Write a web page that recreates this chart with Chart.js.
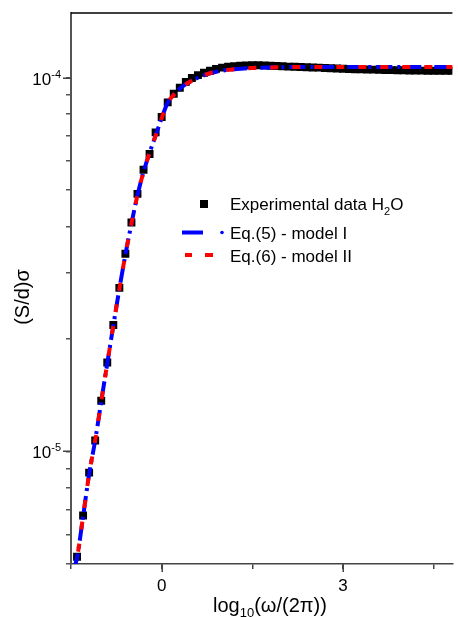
<!DOCTYPE html>
<html>
<head>
<meta charset="utf-8">
<script src="https://cdn.jsdelivr.net/npm/chart.js@4.4.1/dist/chart.umd.min.js"></script>
<style>
  html, body { margin: 0; padding: 0; background: #fff; }
  canvas { display: block; }
</style>
</head>
<body>
<canvas id="chart" width="458" height="617"></canvas>
<script>
// Experimental data, log10(w/2pi) vs (S/d)sigma
const expX = [-1.4, -1.3, -1.2, -1.1, -1.0, -0.9, -0.8, -0.7, -0.6, -0.5, -0.4, -0.3, -0.2, -0.1,
  0.0, 0.1, 0.2, 0.3, 0.4, 0.5, 0.6, 0.7, 0.8, 0.9, 1.0, 1.1, 1.2, 1.3, 1.4, 1.5, 1.6, 1.7, 1.8, 1.9,
  2.0, 2.1, 2.2, 2.3, 2.4, 2.5, 2.6, 2.7, 2.8, 2.9, 3.0, 3.1, 3.2, 3.3, 3.4, 3.5, 3.6, 3.7, 3.8, 3.9,
  4.0, 4.1, 4.2, 4.3, 4.4, 4.5, 4.6, 4.7, 4.8];
const expY = [5.23e-6, 6.74e-6, 8.78e-6, 1.07e-5, 1.367e-5, 1.73e-5, 2.18e-5, 2.74e-5, 3.38e-5, 4.10e-5, 4.89e-5, 5.67e-5, 6.25e-5, 7.14e-5,
  7.85e-5, 8.59e-5, 9.06e-5, 9.40e-5, 9.75e-5, 9.98e-5, 1.016e-4, 1.031e-4, 1.044e-4, 1.056e-4, 1.064e-4, 1.070e-4, 1.074e-4, 1.077e-4, 1.079e-4, 1.080e-4, 1.080e-4, 1.079e-4, 1.077e-4, 1.075e-4,
  1.073e-4, 1.071e-4, 1.070e-4, 1.068e-4, 1.067e-4, 1.065e-4, 1.064e-4, 1.062e-4, 1.060e-4, 1.058e-4, 1.057e-4, 1.055e-4, 1.054e-4, 1.053e-4, 1.052e-4, 1.051e-4, 1.050e-4, 1.049e-4, 1.048e-4, 1.047e-4,
  1.047e-4, 1.046e-4, 1.045e-4, 1.045e-4, 1.044e-4, 1.044e-4, 1.044e-4, 1.043e-4, 1.043e-4];

// Model curves
const modelX = [-1.45, -1.4, -1.3, -1.2, -1.1, -1.0, -0.9, -0.8, -0.7, -0.6, -0.5, -0.4, -0.3, -0.2, -0.1,
  0.0, 0.1, 0.2, 0.3, 0.4, 0.5, 0.6, 0.8, 1.0, 1.2, 1.5, 2.0, 2.5, 3.0, 3.5, 4.0, 4.5, 4.85];
const model1Y = [4.85e-6, 5.2e-6, 6.7e-6, 8.7e-6, 1.07e-5, 1.36e-5, 1.72e-5, 2.17e-5, 2.72e-5, 3.36e-5, 4.07e-5, 4.85e-5, 5.6e-5, 6.3e-5, 7.0e-5,
  7.8e-5, 8.57e-5, 9.0e-5, 9.34e-5, 9.61e-5, 9.82e-5, 1.0e-4, 1.028e-4, 1.044e-4, 1.054e-4, 1.062e-4, 1.067e-4, 1.068e-4, 1.068e-4, 1.068e-4, 1.068e-4, 1.068e-4, 1.068e-4];
const model2Y = [4.85e-6, 5.2e-6, 6.7e-6, 8.7e-6, 1.07e-5, 1.36e-5, 1.72e-5, 2.17e-5, 2.72e-5, 3.36e-5, 4.07e-5, 4.85e-5, 5.6e-5, 6.3e-5, 7.0e-5,
  7.8e-5, 8.57e-5, 9.0e-5, 9.34e-5, 9.61e-5, 9.82e-5, 1.0e-4, 1.028e-4, 1.044e-4, 1.054e-4, 1.062e-4, 1.067e-4, 1.068e-4, 1.068e-4, 1.068e-4, 1.068e-4, 1.068e-4, 1.068e-4];

// axis ticks
const xTickVals = [-1.5, 0, 1.5, 3, 4.5];
const xLabelTicks = [0, 3];
const yTickVals = [5e-6, 6e-6, 7e-6, 8e-6, 9e-6, 1e-5, 2e-5, 3e-5, 4e-5, 5e-5, 6e-5, 7e-5, 8e-5, 9e-5, 1e-4];
const yLabelTicks = [1e-5, 1e-4];

const FONT = "'Liberation Sans', Arial, sans-serif";
const toPts = (xs, ys) => xs.map((x, i) => ({ x: x, y: ys[i] }));

// Draws superscript tick labels, titles, legend and top frame line
const decorPlugin = {
    id: 'decor',
    afterDraw(chart) {
        const ctx = chart.ctx;
        const area = chart.chartArea;
        const xs = chart.scales.x;
        const ys = chart.scales.y;
        ctx.save();
        ctx.fillStyle = '#000';

        // top frame
        ctx.strokeStyle = '#000';
        ctx.lineWidth = 1.5;
        ctx.beginPath();
        ctx.moveTo(area.left, area.top);
        ctx.lineTo(area.right, area.top);
        ctx.stroke();

        // longer major ticks
        ctx.strokeStyle = '#444';
        ctx.beginPath();
        yLabelTicks.forEach(v => {
            const py = Math.round(ys.getPixelForValue(v)) + 0.25;
            ctx.moveTo(area.left - 8, py);
            ctx.lineTo(area.left, py);
        });
        xLabelTicks.forEach(v => {
            const px = Math.round(xs.getPixelForValue(v)) + 0.25;
            ctx.moveTo(px, area.bottom);
            ctx.lineTo(px, area.bottom + 8);
        });
        ctx.stroke();

        // y tick labels 10^n
        yLabelTicks.forEach(v => {
            const py = ys.getPixelForValue(v);
            const exp = '-' + Math.round(-Math.log10(v));
            ctx.font = '11px ' + FONT;
            const ew = ctx.measureText(exp).width;
            ctx.textBaseline = 'alphabetic';
            ctx.textAlign = 'left';
            const right = 61;
            ctx.fillText(exp, right - ew, py);
            ctx.font = '17px ' + FONT;
            ctx.textAlign = 'right';
            ctx.fillText('10', right - ew, py + 7);
        });

        // x tick labels
        ctx.font = '17px ' + FONT;
        ctx.textAlign = 'center';
        ctx.textBaseline = 'alphabetic';
        xLabelTicks.forEach(v => {
            ctx.fillText(String(v), xs.getPixelForValue(v), 591);
        });

        // x title: log10(w/(2pi))
        ctx.textAlign = 'left';
        let tx = 213;
        const ty = 612;
        ctx.font = '20px ' + FONT;
        ctx.fillText('log', tx, ty);
        tx += ctx.measureText('log').width;
        ctx.font = '13px ' + FONT;
        ctx.fillText('10', tx, ty + 5);
        tx += ctx.measureText('10').width;
        ctx.font = '20px ' + FONT;
        ctx.fillText('(\u03c9/(2\u03c0))', tx, ty);

        // y title
        ctx.save();
        ctx.translate(29, 297);
        ctx.rotate(-Math.PI / 2);
        ctx.textAlign = 'center';
        ctx.font = '20px ' + FONT;
        ctx.fillText('(S/d)\u03c3', 0, 0);
        ctx.restore();

        // legend
        ctx.font = '17px ' + FONT;
        ctx.textAlign = 'left';
        ctx.fillRect(200, 200, 8, 8);
        let lx = 230;
        ctx.fillText('Experimental data H', lx, 210);
        lx += ctx.measureText('Experimental data H').width;
        ctx.font = '11px ' + FONT;
        ctx.fillText('2', lx, 215);
        lx += ctx.measureText('2').width;
        ctx.font = '17px ' + FONT;
        ctx.fillText('O', lx, 210);

        ctx.strokeStyle = '#0000ff';
        ctx.lineWidth = 4;
        ctx.beginPath();
        ctx.moveTo(182, 232.5);
        ctx.lineTo(203, 232.5);
        ctx.stroke();
        ctx.fillStyle = '#0000ff';
        ctx.beginPath();
        ctx.arc(222, 232.5, 1.8, 0, Math.PI * 2);
        ctx.fill();

        ctx.strokeStyle = '#ff0000';
        ctx.beginPath();
        ctx.moveTo(185, 255);
        ctx.lineTo(192, 255);
        ctx.moveTo(205, 255);
        ctx.lineTo(213, 255);
        ctx.stroke();

        ctx.fillStyle = '#000';
        ctx.fillText('Eq.(5) - model I', 230, 238.5);
        ctx.fillText('Eq.(6) - model II', 230, 261.5);
        ctx.restore();
    }
};

new Chart(document.getElementById('chart'), {
    type: 'scatter',
    data: {
        datasets: [{
            label: 'Experimental data H2O',
            data: toPts(expX, expY),
            pointStyle: 'rect',
            pointRadius: 5.6,
            pointBackgroundColor: '#000',
            pointBorderWidth: 0,
            order: 3
        }, {
            type: 'line',
            label: 'Eq.(5) - model I',
            data: toPts(modelX, model1Y),
            borderColor: '#0000ff',
            borderWidth: 4,
            borderDash: [16, 5, 3, 5],
            pointRadius: 0,
            cubicInterpolationMode: 'monotone',
            fill: false,
            order: 2
        }, {
            type: 'line',
            label: 'Eq.(6) - model II',
            data: toPts(modelX, model2Y),
            borderColor: '#ff0000',
            borderWidth: 4,
            borderDash: [8, 14],
            borderDashOffset: 4,
            pointRadius: 0,
            cubicInterpolationMode: 'monotone',
            fill: false,
            order: 1
        }]
    },
    options: {
        responsive: false,
        animation: false,
        devicePixelRatio: 1,
        layout: { padding: { top: 13, right: 0, left: 0, bottom: 0 } },
        plugins: {
            legend: { display: false },
            tooltip: { enabled: false }
        },
        scales: {
            x: {
                type: 'linear',
                min: -1.5,
                max: 4.81,
                afterFit: s => { s.height = 53; },
                afterBuildTicks: s => { s.ticks = xTickVals.map(v => ({ value: v })); },
                border: { color: '#444', width: 1.5 },
                grid: { drawOnChartArea: false, drawTicks: true, tickLength: 5, color: '#444', lineWidth: 1.5 },
                ticks: {
                    autoSkip: false,
                    maxRotation: 0,
                    callback: () => ''
                }
            },
            y: {
                type: 'logarithmic',
                min: 5e-6,
                max: 1.49e-4,
                afterFit: s => { s.width = 71; },
                afterBuildTicks: s => { s.ticks = yTickVals.map(v => ({ value: v })); },
                border: { color: '#555', width: 2 },
                grid: { drawOnChartArea: false, drawTicks: true, tickLength: 5, color: '#555', lineWidth: 1.5 },
                ticks: {
                    autoSkip: false,
                    callback: () => ''
                }
            }
        }
    },
    plugins: [decorPlugin]
});
</script>
</body>
</html>
